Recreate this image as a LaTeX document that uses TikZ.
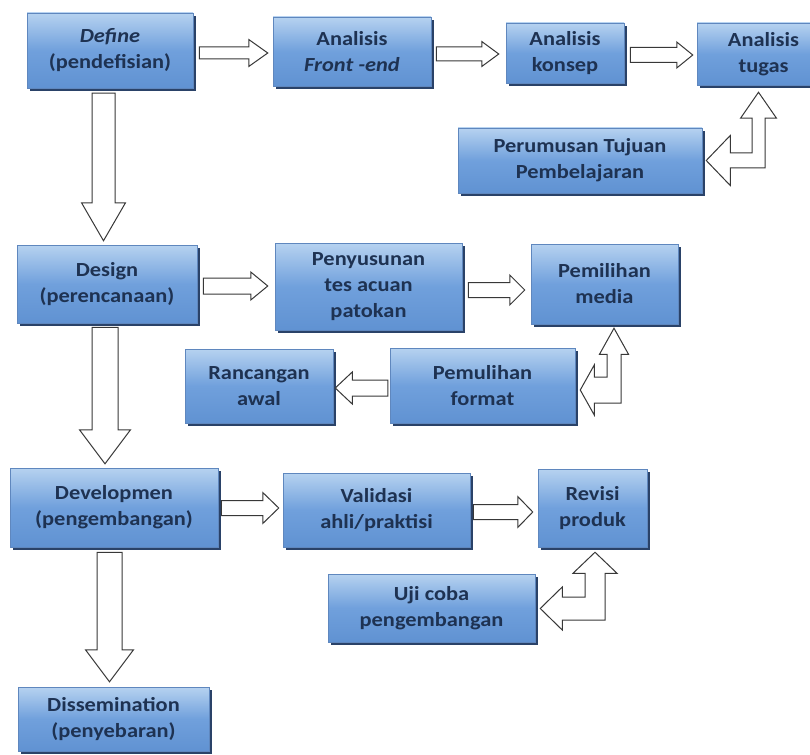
\documentclass[tikz,border=0pt]{standalone}
\usepackage{fontspec}
\setmainfont{Carlito}[FakeStretch=1.12]
\usetikzlibrary{calc,shadows}
\definecolor{txt}{RGB}{30,50,82}
\definecolor{boxtop}{RGB}{182,210,240}
\definecolor{boxmid}{RGB}{112,160,220}
\definecolor{boxbot}{RGB}{96,146,210}
\definecolor{boxline}{RGB}{95,135,190}
\definecolor{shadowc}{RGB}{42,66,104}

% straight block arrow to the right: from, to, y, half shaft, half head, head length, gap1, gap2
\newcommand\rarr[8]{%
  \coordinate (ay) at (0,#3);
  \coordinate (as) at ($(#1.east|-ay)+(#7,0)$);
  \coordinate (at) at ($(#2.west|-ay)+(-#8,0)$);
  \coordinate (ab) at ($(at)+(-#6,0)$);
  \draw[blk] ($(as)+(0,-#4)$) -- ($(ab)+(0,-#4)$) -- ($(ab)+(0,-#5)$) -- (at)
    -- ($(ab)+(0,#5)$) -- ($(ab)+(0,#4)$) -- ($(as)+(0,#4)$) -- cycle;}
% block arrow to the left: from (right node), to (left node), ...
\newcommand\larr[8]{%
  \coordinate (ay) at (0,#3);
  \coordinate (as) at ($(#1.west|-ay)+(-#7,0)$);
  \coordinate (at) at ($(#2.east|-ay)+(#8,0)$);
  \coordinate (ab) at ($(at)+(#6,0)$);
  \draw[blk] ($(as)+(0,-#4)$) -- ($(ab)+(0,-#4)$) -- ($(ab)+(0,-#5)$) -- (at)
    -- ($(ab)+(0,#5)$) -- ($(ab)+(0,#4)$) -- ($(as)+(0,#4)$) -- cycle;}
% block arrow downward: from, to, x, half shaft, half head, head length, gap1, gap2
\newcommand\darr[8]{%
  \coordinate (ax) at (#3,0);
  \coordinate (as) at ($(ax|-#1.south)+(0,#7)$);
  \coordinate (at) at ($(ax|-#2.north)+(0,-#8)$);
  \coordinate (ab) at ($(at)+(0,-#6)$);
  \draw[blk] ($(as)+(-#4,0)$) -- ($(ab)+(-#4,0)$) -- ($(ab)+(-#5,0)$) -- (at)
    -- ($(ab)+(#5,0)$) -- ($(ab)+(#4,0)$) -- ($(as)+(#4,0)$) -- cycle;}
% left-up block arrow: lower node, upper node, cx, cy, gap up, gap left
\newcommand\luarr[6]{%
  \coordinate (ay) at (#3,#4);
  \coordinate (ut) at ($(ay|-#2.south)+(0,#5)$);
  \coordinate (lt) at ($(#1.east|-ay)+(#6,0)$);
  \coordinate (ub) at ($(ut)+(0,\Llu)$);
  \coordinate (lb) at ($(lt)+(\Lll,0)$);
  \draw[blk] (ut) -- ($(ub)+(\Lhu,0)$) -- ($(ub)+(\Lhs,0)$) -- ($(ay)+(\Lhs,\Lhsh)$)
    -- ($(lb)+(0,\Lhsh)$) -- ($(lb)+(0,\Lhl)$) -- (lt) -- ($(lb)+(0,-\Lhl)$)
    -- ($(lb)+(0,-\Lhsh)$) -- ($(ay)+(-\Lhs,-\Lhsh)$) -- ($(ub)+(-\Lhs,0)$)
    -- ($(ub)+(-\Lhu,0)$) -- cycle;}

\begin{document}
\begin{tikzpicture}[x=1pt,y=-1pt,
  box/.style={rectangle, draw=boxline, line width=0.5pt,
    top color=boxtop, bottom color=boxbot, middle color=boxmid,
    text=txt, align=center, inner sep=0pt,
    font=\fontsize{20}{26}\selectfont\bfseries,
    general shadow={fill=shadowc, shadow xshift=3pt, shadow yshift=-3pt}},
  blk/.style={draw=black!78, line width=1pt, fill=white, line join=miter}]
\useasboundingbox[fill=white] (0,0) rectangle (810,754);

\node[box, minimum width=166pt, minimum height=75pt] (def) at (110,50.5) {\textit{Define}\\(pendefisian)};
\node[box, minimum width=158pt, minimum height=69pt] (fe) at (352,51.5) {Analisis\\\textit{Front -end}};
\node[box, minimum width=118pt, minimum height=60pt] (kon) at (565,53) {Analisis\\konsep};
\node[box, minimum width=133pt, minimum height=62pt] (tug) at (763.5,54) {Analisis\\tugas};
\node[box, minimum width=244pt, minimum height=65pt] (per) at (580,160.5) {Perumusan Tujuan\\Pembelajaran};
\node[box, minimum width=180pt, minimum height=78pt] (des) at (107,284) {Design\\(perencanaan)};
\node[box, minimum width=187pt, minimum height=87pt] (pen) at (368.5,286.5) {Penyusunan\\tes acuan\\patokan};
\node[box, minimum width=147pt, minimum height=80pt] (pem) at (604.5,284) {Pemilihan\\media};
\node[box, minimum width=185pt, minimum height=75pt] (pml) at (482.5,385.5) {Pemulihan\\format};
\node[box, minimum width=148pt, minimum height=74pt] (ran) at (259,386) {Rancangan\\awal};
\node[box, minimum width=208pt, minimum height=79pt] (dev) at (114,507.5) {Developmen\\(pengembangan)};
\node[box, minimum width=187pt, minimum height=74pt] (val) at (376.5,510) {Validasi\\ahli/praktisi};
\node[box, minimum width=109pt, minimum height=78pt] (rev) at (592.5,508) {Revisi\\produk};
\node[box, minimum width=207pt, minimum height=68pt] (uji) at (431.5,608) {Uji coba\\pengembangan};
\node[box, minimum width=191pt, minimum height=64pt] (dis) at (113.5,719) {Dissemination\\(penyebaran)};

% horizontal arrows
\rarr{def}{fe}{53}{6}{13.5}{19}{6}{5}
\rarr{fe}{kon}{54}{7}{12.5}{17}{5}{7}
\rarr{kon}{tug}{55}{7.5}{13}{16}{6}{4}
\rarr{des}{pen}{286}{8}{14}{17}{6}{7}
\rarr{pen}{pem}{290}{7.5}{15}{15}{6}{6}
\larr{pml}{ran}{388}{8}{16}{17}{2}{2}
\rarr{dev}{val}{508}{7.5}{15.5}{16}{3}{4}
\rarr{val}{rev}{512}{7.5}{15.5}{15}{3}{5}

% vertical arrows
\darr{def}{des}{103.5}{11.5}{22}{38}{5}{4}
\darr{des}{dev}{105}{13}{25.5}{34}{4}{4}
\darr{dev}{dis}{109.5}{12.5}{24}{32}{5}{5}

% left-up arrows
\def\Lhs{6.5}\def\Lhsh{7.5}\def\Lhu{18}\def\Llu{26}\def\Lhl{25}\def\Lll{24}
\luarr{per}{tug}{758.5}{160.5}{7}{4}
\def\Lhs{7}\def\Lhsh{13}\def\Lhu{14.5}\def\Llu{26}\def\Lhl{25}\def\Lll{14}
\luarr{pml}{pem}{614}{390}{4}{5}
\def\Lhs{10}\def\Lhsh{11.5}\def\Lhu{22}\def\Llu{21}\def\Lhl{21.5}\def\Lll{22}
\luarr{uji}{rev}{595}{608.5}{5}{5}
\end{tikzpicture}
\end{document}
